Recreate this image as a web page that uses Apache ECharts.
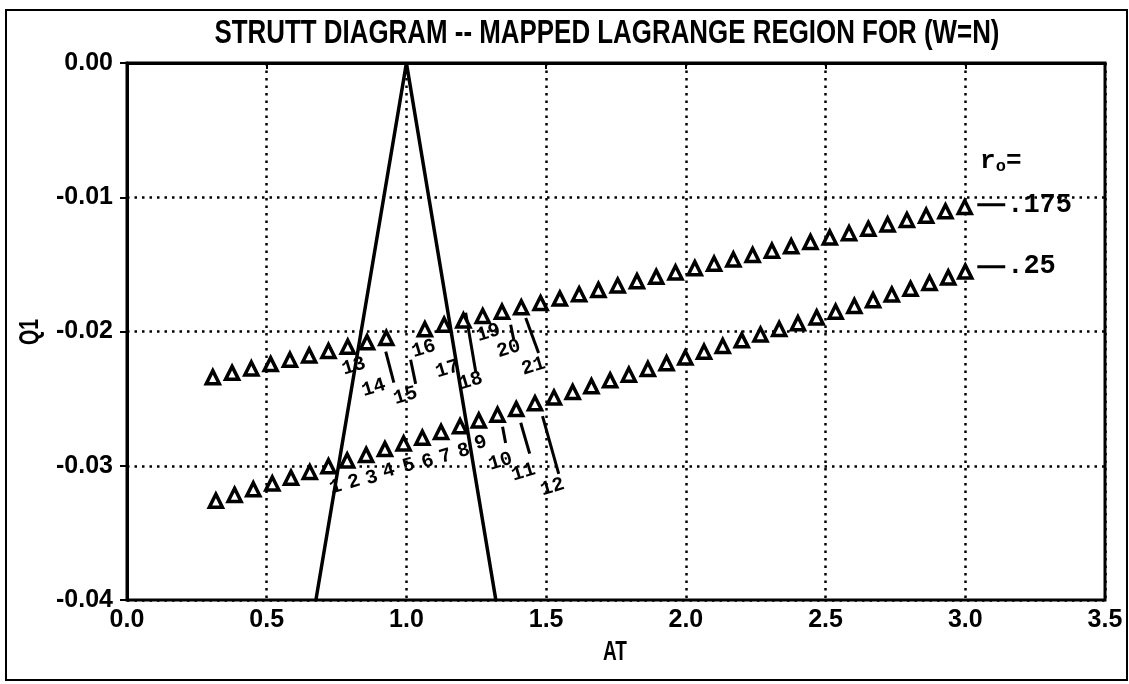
<!DOCTYPE html>
<html><head><meta charset="utf-8">
<script src="https://cdn.jsdelivr.net/npm/echarts/dist/echarts.min.js"></script>
<style>html,body{margin:0;padding:0;background:#fff}#c{width:1129px;height:684px}</style>
</head><body><div id="c"></div>
<script>
// ---- data ----
const upperAT = [0.307,0.376,0.445,0.514,0.583,0.652,0.721,0.790,0.859,0.928,
  1.066,1.135,1.204,1.273,1.342,1.411,1.480,1.549,1.618,1.687,1.756,1.825,1.894,1.963,
  2.032,2.101,2.170,2.239,2.308,2.377,2.446,2.515,2.584,2.653,2.722,2.791,2.860,2.929,2.998];
const upperQ1 = [-0.02340,-0.02308,-0.02275,-0.02243,-0.02210,-0.02178,-0.02145,-0.02113,-0.02080,-0.02048,
  -0.01983,-0.01950,-0.01918,-0.01885,-0.01853,-0.01820,-0.01788,-0.01755,-0.01723,-0.01690,-0.01658,-0.01625,-0.01593,-0.01560,
  -0.01528,-0.01495,-0.01463,-0.01430,-0.01398,-0.01365,-0.01333,-0.01300,-0.01268,-0.01235,-0.01203,-0.01170,-0.01138,-0.01105,-0.01073];
const lowerAT = [0.318,0.385,0.452,0.520,0.587,0.654,0.721,0.788,0.856,0.923,0.990,
  1.057,1.124,1.192,1.259,1.326,1.393,1.460,1.528,1.595,1.662,1.729,1.796,1.864,1.931,1.998,
  2.065,2.132,2.200,2.267,2.334,2.401,2.468,2.536,2.603,2.670,2.737,2.804,2.872,2.939,3.000];
const lowerQ1 = [-0.03260,-0.03217,-0.03175,-0.03132,-0.03089,-0.03047,-0.03004,-0.02961,-0.02919,-0.02876,-0.02834,
  -0.02791,-0.02748,-0.02706,-0.02663,-0.02620,-0.02578,-0.02535,-0.02492,-0.02450,-0.02407,-0.02364,-0.02322,-0.02279,-0.02236,-0.02194,
  -0.02151,-0.02108,-0.02066,-0.02023,-0.01981,-0.01938,-0.01895,-0.01853,-0.01810,-0.01767,-0.01725,-0.01682,-0.01639,-0.01597,-0.01554];
const boundaryAT = [0.676, 1.0, 1.32];
const boundaryQ1 = [-0.04, 0.0, -0.04];
const pointLabels  = ['1','2','3','4','5','6','7','8','9','10','11','12','13','14','15','16','17','18','19','20','21'];
const pointLabelAT = [0.747,0.812,0.876,0.937,1.008,1.076,1.140,1.205,1.266,1.337,1.419,1.523,
  0.812,0.883,0.997,1.062,1.147,1.230,1.294,1.366,1.455];
const pointLabelQ1 = [-0.0316,-0.0312,-0.0309,-0.0304,-0.0300,-0.0297,-0.0293,-0.0289,-0.0283,-0.0297,-0.0305,-0.0316,
  -0.0226,-0.0242,-0.0248,-0.0213,-0.0228,-0.0237,-0.0201,-0.0213,-0.0226];
const leaderStartAT = [1.344,1.409,1.487,0.926,1.015,1.212,1.373,1.427];
const leaderStartQ1 = [-0.0271,-0.0268,-0.0263,-0.0215,-0.0221,-0.0186,-0.0195,-0.0190];
const leaderEndAT   = [1.355,1.441,1.545,0.955,1.033,1.248,1.384,1.473];
const leaderEndQ1   = [-0.0283,-0.0291,-0.0306,-0.0238,-0.0239,-0.0230,-0.0206,-0.0216];
const curveNames   = ['.175', '.25'];
const curveDashAT  = [3.043, 3.143];
const curveLabelAT = [3.15, 3.15];
const curveLabelQ1 = [-0.01056, -0.01517];
const roLabelAT = 3.053, roLabelQ1 = -0.00736;
const titleText = 'STRUTT DIAGRAM -- MAPPED LAGRANGE REGION FOR (W=N)';
const xName = 'AT', yName = 'Q1';

// ---- helpers ----
function fitScale(text, font, width){
  const ctx = document.createElement('canvas').getContext('2d');
  ctx.font = font; return width / ctx.measureText(text).width;
}
const zip = (a,b) => a.map((v,i)=>[v,b[i]]);
const mono = '"Liberation Mono", "DejaVu Sans Mono", monospace';
const sans = '"Liberation Sans", Arial, sans-serif';
const noBorder = {textBorderWidth:0, textShadowBlur:0, opacity:1};

const series = [];
series.push({type:'line', data: zip(boundaryAT, boundaryQ1), symbol:'none', silent:true,
  lineStyle:{color:'#000', width:3.5, opacity:1}, z:3});
leaderStartAT.forEach((v,i)=>{
  series.push({type:'line', data:[[v,leaderStartQ1[i]],[leaderEndAT[i],leaderEndQ1[i]]], symbol:'none',
    lineStyle:{color:'#000', width:3}, z:3});
});
const triStyle = {color:'#fff', borderColor:'#000', borderWidth:3.5, opacity:1};
series.push({type:'scatter', data: zip(upperAT, upperQ1), symbol:'triangle', symbolSize:13, itemStyle:triStyle, z:4});
series.push({type:'scatter', data: zip(lowerAT, lowerQ1), symbol:'triangle', symbolSize:13, itemStyle:triStyle, z:4});
series.push({type:'scatter', symbolSize:0, z:5, itemStyle:{opacity:1},
  data: pointLabels.map((n,i)=>({name:n, value:[pointLabelAT[i], pointLabelQ1[i]]})),
  label:Object.assign({show:true, position:'inside', formatter:'{b}', rotate:17, color:'#000',
    fontFamily:mono, fontWeight:'bold', fontSize:20}, noBorder)});
curveNames.forEach((n,i)=>{
  series.push({type:'line', data:[[curveDashAT[0],curveLabelQ1[i]],[curveDashAT[1],curveLabelQ1[i]]],
    symbol:'none', lineStyle:{color:'#000', width:3}, z:3});
});
series.push({type:'scatter', symbolSize:0, z:5, itemStyle:{opacity:1},
  data: curveNames.map((n,i)=>({name:n, value:[curveLabelAT[i], curveLabelQ1[i]]})),
  label:Object.assign({show:true, position:'right', distance:0, formatter:'{b}', color:'#000',
    fontFamily:mono, fontWeight:'bold', fontSize:27}, noBorder)});
series.push({type:'scatter', symbolSize:0, z:5, itemStyle:{opacity:1},
  data:[{name:'ro', value:[roLabelAT, roLabelQ1]}],
  label:Object.assign({show:true, position:'right', distance:0, formatter:'{r|r}{o|o}{r|=}',
    rich:{ r:{fontFamily:mono, fontWeight:'bold', fontSize:26, color:'#000', lineHeight:28},
           o:{fontFamily:mono, fontWeight:'bold', fontSize:17, color:'#000', lineHeight:28, padding:[10,0,0,0]} }}, noBorder)});

const titleFont = 'bold 34px ' + sans;
const nameFont = 'bold 28px ' + sans;

const chart = echarts.init(document.getElementById('c'), null, {renderer:'canvas'});
chart.setOption({
  animation:false,
  backgroundColor:'#fff',
  grid:{left:127, right:24, top:63, bottom:84, show:true, borderColor:'#000', borderWidth:3},
  xAxis:{type:'value', min:0, max:3.5, interval:0.5,
    axisLine:{show:true, lineStyle:{color:'#000', width:3}},
    axisTick:{show:true, length:6, lineStyle:{color:'#000', width:2}},
    axisLabel:{color:'#000', fontFamily:sans, fontWeight:'bold', fontSize:25, margin:8,
      formatter:v=>v.toFixed(1)},
    splitLine:{show:true, lineStyle:{color:'#000', width:2.5, type:[2.5,5]}}},
  yAxis:{type:'value', min:-0.04, max:0, interval:0.01,
    axisLine:{show:true, lineStyle:{color:'#000', width:3}},
    axisTick:{show:true, length:7, lineStyle:{color:'#000', width:2}},
    axisLabel:{color:'#000', fontFamily:sans, fontWeight:'bold', fontSize:25, margin:14,
      formatter:v=>(Math.abs(v)<1e-9?0:v).toFixed(2)},
    splitLine:{show:true, lineStyle:{color:'#000', width:2.5, type:[2.5,5]}}},
  series: series,
  graphic:[
    {type:'rect', shape:{x:6, y:10, width:1121, height:670}, style:{fill:null, stroke:'#000', lineWidth:2}, z:-1, silent:true},
    {type:'text', x:607, y:34, scaleX:fitScale(titleText, titleFont, 785),
      style:{text:titleText, font:titleFont, fill:'#000', align:'center', verticalAlign:'middle'}},
    {type:'text', x:615, y:652, scaleX:0.68,
      style:{text:xName, font:nameFont, fill:'#000', align:'center', verticalAlign:'middle'}},
    {type:'text', x:30, y:332, rotation:Math.PI/2, scaleX:0.7,
      style:{text:yName, font:nameFont, fill:'#000', align:'center', verticalAlign:'middle'}}
  ]
});
</script></body></html>
